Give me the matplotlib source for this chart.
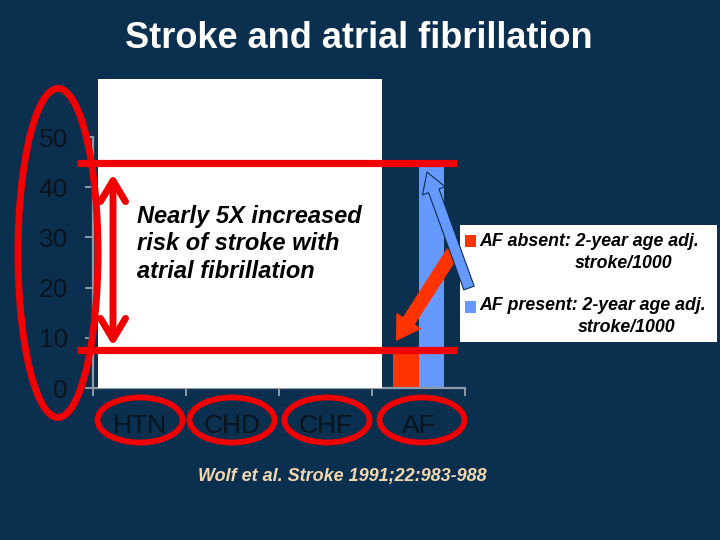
import matplotlib
matplotlib.use("Agg")
import matplotlib.pyplot as plt
import matplotlib.transforms as mtransforms
from matplotlib.patches import Rectangle, Ellipse, FancyArrow, FancyArrowPatch
from matplotlib.lines import Line2D

plt.rcParams['font.family'] = ['Liberation Sans', 'DejaVu Sans']

# ---- data ----
categories = ["HTN", "CHD", "CHF", "AF"]
bar_category = "AF"
af_absent_value = 7.3    # 2-year age adj. stroke/1000, AF absent
af_present_value = 44.4  # 2-year age adj. stroke/1000, AF present
y_ticks = [0, 10, 20, 30, 40, 50]
legend_labels = ["AF absent: 2-year age adj.", "AF present: 2-year age adj."]
legend_sub = "stroke/1000"
title = "Stroke and atrial fibrillation"
note_lines = ["Nearly 5X increased", "risk of stroke with", "atrial fibrillation"]
citation = "Wolf et al. Stroke 1991;22:983-988"

BG = '#0B2F4F'
ORANGE = '#FF3300'
BLUE = '#6699FF'
RED = '#F00000'
GREY = '#8D9BA8'
DARK = '#0A141D'

W, H = 720, 540
fig = plt.figure(figsize=(W / 100, H / 100), dpi=100, facecolor=BG)
# pixel transform, origin top-left
T = mtransforms.Affine2D().scale(1 / W, -1 / H).translate(0, 1) + fig.transFigure

ax = fig.add_axes([93 / W, 1 - 388 / H, (465 - 93) / W, (388 - 137) / H])
ax.set_facecolor('none')
ax.set_xlim(-0.5, len(categories) - 0.5)
ax.set_ylim(0, 50)

i = categories.index(bar_category)
bw = 0.27
ax.bar(i - bw / 2, af_absent_value, width=bw, color=ORANGE, zorder=2)
ax.bar(i + bw / 2, af_present_value, width=bw, color=BLUE, zorder=2)

for s in ['top', 'right']:
    ax.spines[s].set_visible(False)
for s in ['left', 'bottom']:
    ax.spines[s].set_color(GREY)
    ax.spines[s].set_linewidth(1.6)

ax.set_yticks(y_ticks)
ax.set_yticklabels([str(v) for v in y_ticks])
ax.tick_params(axis='y', direction='out', length=6, width=1.4, color=GREY,
               labelsize=19, labelcolor=DARK, pad=12)
ax.set_xticks([k - 0.5 for k in range(len(categories) + 1)])
ax.set_xticklabels([])
ax.set_xticks(range(len(categories)), minor=True)
ax.set_xticklabels(categories, minor=True)
ax.tick_params(axis='x', which='major', direction='out', length=6, width=1.4, color=GREY)
ax.tick_params(axis='x', which='minor', length=0, labelsize=19, labelcolor=DARK, pad=19)

# white cover box
fig.patches.append(Rectangle((98, 79), 382 - 98, 388 - 79, transform=T,
                             facecolor='white', edgecolor='none', zorder=1))
# legend box
fig.patches.append(Rectangle((460, 225), 717 - 460, 342 - 225, transform=T,
                             facecolor='white', edgecolor='none', zorder=3))
fig.patches.append(Rectangle((465, 235), 11, 12, transform=T,
                             facecolor=ORANGE, edgecolor='none', zorder=4))
fig.patches.append(Rectangle((465, 301), 11, 12, transform=T,
                             facecolor=BLUE, edgecolor='none', zorder=4))
lg = dict(transform=T, fontsize=12.8, fontweight='bold', fontstyle='italic',
          color='black', va='center', ha='left', zorder=5)
fig.text(479, 241, legend_labels[0], **lg)
fig.text(575, 263, legend_sub, **lg)
fig.text(479, 306, legend_labels[1], **lg)
fig.text(578, 328, legend_sub, **lg)

# title
fig.text(359, 39, title, transform=T, fontsize=26, fontweight='bold',
         color='white', ha='center', va='center')

# note text
for line, yy in zip(note_lines, [216, 244, 272]):
    fig.text(137, yy, line, transform=T, fontsize=17, fontweight='bold',
             fontstyle='italic', color='black', ha='left', va='center', zorder=5)

# citation
fig.text(198, 477, citation, transform=T, fontsize=13, fontweight='bold',
         fontstyle='italic', color='#F0D8B0', ha='left', va='center')

# red horizontal lines
for yy in [163, 350]:
    fig.lines.append(Line2D([77, 457], [yy, yy], transform=T, color=RED,
                            lw=5.2, solid_capstyle='butt', zorder=6))

# red ellipses
fig.patches.append(Ellipse((58, 253), 80, 329, transform=T, facecolor='none',
                           edgecolor=RED, lw=5, zorder=6))
for cx in [140, 232, 327, 422]:
    fig.patches.append(Ellipse((cx, 420), 85, 45, transform=T, facecolor='none',
                               edgecolor=RED, lw=4.2, zorder=6))

# red double arrow
fig.patches.append(FancyArrowPatch((113, 346), (113, 174), transform=T,
                                   arrowstyle='<->,head_length=15,head_width=9',
                                   mutation_scale=1, color=RED, lw=5,
                                   shrinkA=0, shrinkB=0, zorder=6))

# orange arrow
fig.patches.append(FancyArrow(453, 252, 396 - 453, 341 - 252, width=14,
                              head_width=30, head_length=24, length_includes_head=True,
                              transform=T, facecolor=ORANGE, edgecolor='none', zorder=7))
# blue arrow
fig.patches.append(FancyArrow(469, 288, 427 - 469, 172 - 288, width=11,
                              head_width=24, head_length=20, length_includes_head=True,
                              transform=T, facecolor=BLUE, edgecolor=BG, lw=0.8, zorder=7))

fig.savefig('out.png', dpi=100, facecolor=BG)
